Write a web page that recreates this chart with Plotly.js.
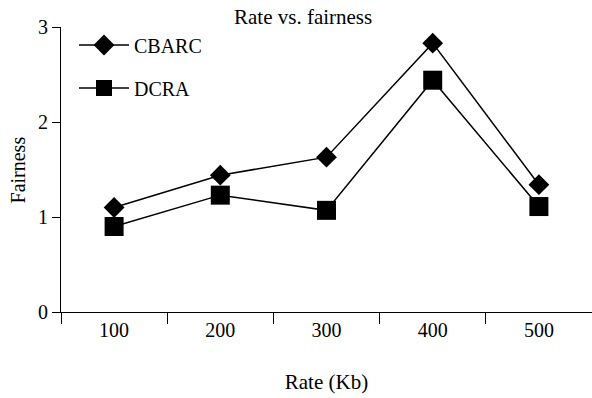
<!DOCTYPE html>
<html>
<head>
<meta charset="utf-8">
<script src="https://cdn.plot.ly/plotly-3.0.1.min.js"></script>
<style>html,body{margin:0;padding:0;background:#fff}#chart{width:592px;height:398px}</style>
</head>
<body>
<div id="chart"></div>
<script>
var rates = ['100', '200', '300', '400', '500'];
var cbarc = [1.10, 1.44, 1.63, 2.83, 1.34];
var dcra = [0.90, 1.23, 1.07, 2.44, 1.11];
var seriesNames = ['CBARC', 'DCRA'];
var yTitle = 'Fairness';

var FONT = '"Liberation Serif", "Times New Roman", serif';

var traces = [
  {
    x: rates, y: cbarc, name: seriesNames[0], type: 'scatter', mode: 'lines+markers',
    line: {color: '#000', width: 1.5},
    marker: {symbol: 'diamond', size: 16, color: '#000'},
    legend: 'legend'
  },
  {
    x: rates, y: dcra, name: seriesNames[1], type: 'scatter', mode: 'lines+markers',
    line: {color: '#000', width: 1.5},
    marker: {symbol: 'square', size: 19, color: '#000'},
    legend: 'legend2'
  }
];

var legendCommon = {
  font: {family: FONT, size: 20, color: '#000'},
  bgcolor: 'rgba(0,0,0,0)',
  itemwidth: 50,
  xref: 'container', yref: 'container',
  xanchor: 'left', yanchor: 'middle'
};

var layout = {
  width: 592, height: 398,
  margin: {l: 61, r: 0, t: 27, b: 86, autoexpand: false},
  paper_bgcolor: '#fff', plot_bgcolor: '#fff',
  font: {family: FONT, color: '#000'},
  showlegend: true,
  title: {
    text: 'Rate vs. fairness',
    font: {family: FONT, size: 21, color: '#000'},
    xref: 'container', yref: 'container',
    x: 0.512, xanchor: 'center', y: 0.957, yanchor: 'middle'
  },
  xaxis: {
    type: 'category',
    range: [-0.5, 4.5],
    tickson: 'boundaries',
    ticks: 'outside', ticklen: 11, tickwidth: 1, tickcolor: '#000',
    showline: true, linecolor: '#000', linewidth: 1,
    showgrid: false, zeroline: false,
    tickfont: {family: FONT, size: 20, color: '#000'},
    title: {text: 'Rate (Kb)', font: {family: FONT, size: 21, color: '#000'}, standoff: 34}
  },
  yaxis: {
    range: [0, 3], dtick: 1, tick0: 0,
    ticks: 'outside', ticklen: 8, tickwidth: 1, tickcolor: '#000',
    showline: true, linecolor: '#000', linewidth: 1,
    showgrid: false, zeroline: false,
    tickfont: {family: FONT, size: 20, color: '#000'}
  },
  annotations: [{
    text: yTitle, textangle: -90, showarrow: false,
    xref: 'paper', yref: 'paper', x: -0.081, y: 0.5,
    xanchor: 'center', yanchor: 'middle',
    font: {family: FONT, size: 20, color: '#000'}
  }],
  legend: Object.assign({}, legendCommon, {x: 0.125, y: 1 - 45 / 398}),
  legend2: Object.assign({}, legendCommon, {x: 0.125, y: 1 - 88 / 398})
};

Plotly.newPlot('chart', traces, layout, {displayModeBar: false, staticPlot: true});
</script>
</body>
</html>
